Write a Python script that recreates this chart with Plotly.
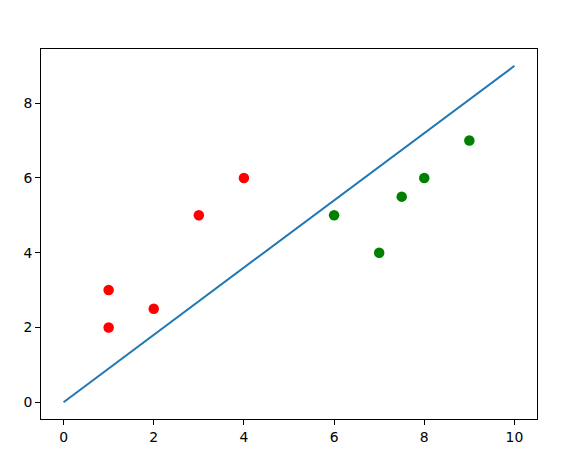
import plotly.graph_objects as go

line_x = [0, 10]
line_y = [0, 9]
red_x = [1, 1, 2, 3, 4]
red_y = [2, 3, 2.5, 5, 6]
green_x = [6, 7, 7.5, 8, 9]
green_y = [5, 4, 5.5, 6, 7]
tick_vals_x = [0, 2, 4, 6, 8, 10]
tick_vals_y = [0, 2, 4, 6, 8]

fig = go.Figure()
fig.add_trace(go.Scatter(x=line_x, y=line_y, mode="lines",
                         line=dict(color="#1f77b4", width=2)))
fig.add_trace(go.Scatter(x=red_x, y=red_y, mode="markers",
                         marker=dict(color="red", size=10.5)))
fig.add_trace(go.Scatter(x=green_x, y=green_y, mode="markers",
                         marker=dict(color="green", size=10.5)))

axis_common = dict(showgrid=False, zeroline=False, showline=True, linecolor="black",
                   linewidth=1, mirror=True, ticks="outside", ticklen=5,
                   tickwidth=1, tickcolor="black",
                   tickfont=dict(family="DejaVu Sans", size=13.9, color="black"))
fig.update_xaxes(range=[-0.5, 10.5], tickvals=tick_vals_x, **axis_common)
fig.update_yaxes(range=[-0.45, 9.45], tickvals=tick_vals_y, **axis_common)

fig.update_layout(width=566, height=461, showlegend=False,
                  plot_bgcolor="white", paper_bgcolor="white",
                  margin=dict(l=41, r=29, t=49, b=42))
fig.write_html("out.html", config={"displayModeBar": False})

with open("out.html", "r", encoding="utf-8") as f:
    html = f.read()
html = html.replace("<body>", '<body style="margin:0">', 1)
with open("out.html", "w", encoding="utf-8") as f:
    f.write(html)
